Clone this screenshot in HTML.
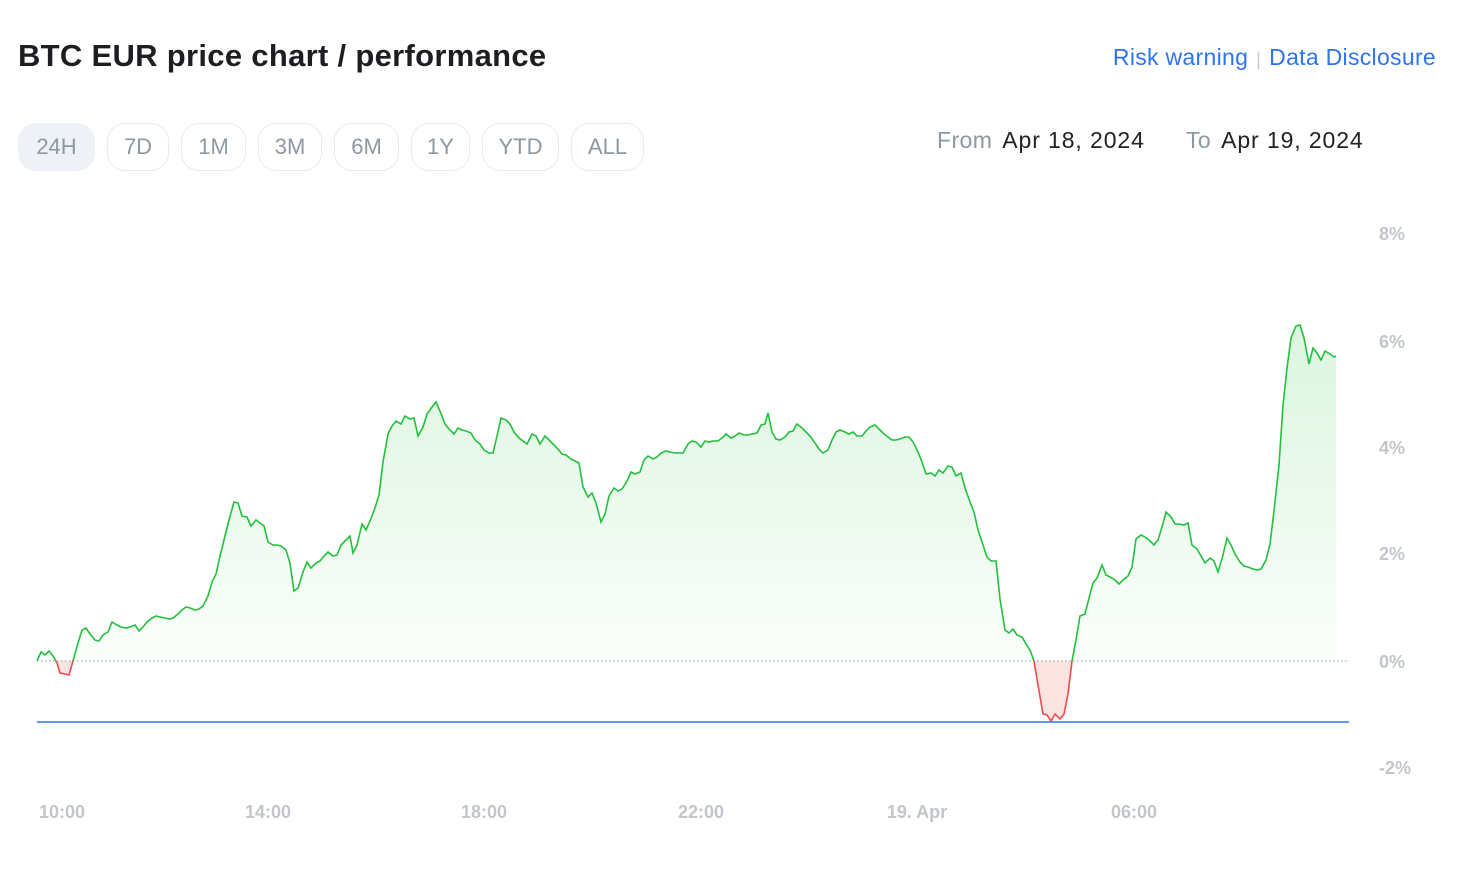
<!DOCTYPE html>
<html><head><meta charset="utf-8"><style>
body{margin:0;width:1468px;height:888px;background:#fff;font-family:"Liberation Sans",sans-serif;position:relative;overflow:hidden}
.t{position:absolute;left:18px;top:38px;font-size:31px;font-weight:bold;color:#1c1e21;letter-spacing:0.3px}
.links{position:absolute;right:32px;top:44px;font-size:23px;color:#2f73f0;letter-spacing:0.3px}
.links span{color:#c8ccd2;margin:0 8px;font-size:18px}
.b{position:absolute;top:123px;height:48px;border:1px solid #e9ebee;border-radius:18px;box-sizing:border-box;color:#8e98a3;font-size:22px;line-height:46px;text-align:center}
.range{position:absolute;top:127px;font-size:23px;color:#222;letter-spacing:0.9px}
.range i{font-style:normal;color:#8e98a3;margin-right:10px;letter-spacing:0.4px}
</style></head><body>
<div class="t">BTC EUR price chart / performance</div>
<div class="links">Risk warning<span>|</span>Data Disclosure</div>
<div class="b" style="left:18px;width:77px;background:#eef1f5;border-color:#eef1f5">24H</div>
<div class="b" style="left:107px;width:62px">7D</div>
<div class="b" style="left:181px;width:65px">1M</div>
<div class="b" style="left:258px;width:64px">3M</div>
<div class="b" style="left:334px;width:65px">6M</div>
<div class="b" style="left:411px;width:59px">1Y</div>
<div class="b" style="left:482px;width:77px">YTD</div>
<div class="b" style="left:571px;width:73px">ALL</div>
<div class="range" style="left:937px"><i>From</i>Apr 18, 2024</div>
<div class="range" style="left:1186px"><i>To</i>Apr 19, 2024</div>
<svg width="1468" height="888" style="position:absolute;left:0;top:0">
<defs>
<linearGradient id="g" x1="0" y1="325" x2="0" y2="661" gradientUnits="userSpaceOnUse"><stop offset="0" stop-color="#22c03c" stop-opacity="0.16"/><stop offset="1" stop-color="#22c03c" stop-opacity="0.02"/></linearGradient>
<clipPath id="up"><rect x="0" y="0" width="1468" height="661"/></clipPath>
<clipPath id="dn"><rect x="0" y="661" width="1468" height="200"/></clipPath>
<polygon id="f" points="37,661 41,652 45,655 49,651 53,656 57,663 60,673 65,674 69,675 73,661 78,643 82,630 86,628 90,634 95,640 99,641 103,635 108,632 112,622 117,625 121,627 126,628 130,627 135,625 139,631 143,627 147,622 152,618 156,616 160,617 165,618 169,619 173,618 178,614 182,610 186,607 190,608 195,610 199,609 203,606 208,596 212,582 216,574 220,556 225,536 229,520 234,502 238,503 242,516 247,517 251,526 256,520 260,523 264,526 268,542 273,545 277,545 281,546 286,550 290,563 294,591 298,588 303,572 307,562 311,568 316,563 320,561 324,556 328,552 333,556 337,555 341,545 346,540 350,536 353,553 357,545 362,524 366,530 370,521 375,508 379,495 383,462 388,434 392,426 396,421 401,424 405,416 410,419 414,418 418,436 423,427 427,414 432,407 436,402 440,411 445,424 449,429 454,434 458,428 462,430 466,431 471,433 475,440 480,444 484,450 489,453 493,453 497,436 501,418 506,420 510,424 514,432 519,438 523,441 527,444 532,434 536,436 540,444 545,436 549,440 553,444 558,449 562,454 566,455 571,459 575,461 579,463 583,487 588,497 592,493 596,503 601,522 605,514 609,496 614,488 618,491 622,489 627,481 631,472 635,474 640,472 644,460 648,456 653,459 657,457 661,453 666,451 670,452 675,453 679,453 683,453 688,444 692,441 696,442 701,447 705,441 709,442 713,441 718,441 722,438 726,434 731,438 735,436 739,433 744,435 748,435 752,434 757,433 761,425 765,424 768,413 772,432 776,439 780,440 785,437 789,432 793,431 797,424 802,428 806,432 810,436 815,443 819,449 823,453 828,450 832,440 836,432 840,430 845,432 849,434 853,432 857,436 862,436 866,431 870,427 875,425 879,429 883,433 888,437 892,440 896,440 900,439 905,437 909,437 913,442 918,452 922,462 926,474 931,473 935,476 939,470 943,473 948,466 952,467 956,476 961,473 965,488 970,502 974,512 978,530 983,545 987,557 991,561 996,561 1000,599 1005,630 1009,633 1013,629 1017,635 1022,637 1026,644 1030,650 1034,661 1038,685 1043,714 1047,715 1051,721 1055,714 1060,719 1064,714 1068,694 1072,661 1076,640 1080,616 1085,614 1089,598 1093,583 1097,578 1102,565 1106,575 1110,577 1115,580 1119,584 1123,580 1128,576 1132,567 1136,539 1141,535 1145,537 1149,540 1154,545 1158,540 1162,527 1166,512 1171,517 1175,524 1179,524 1184,525 1188,523 1192,545 1197,549 1201,556 1205,563 1210,558 1214,561 1218,572 1223,555 1227,538 1231,545 1235,554 1240,562 1244,566 1248,567 1253,569 1257,570 1261,569 1266,560 1270,544 1274,511 1279,465 1283,405 1287,368 1291,338 1296,326 1300,325 1304,338 1309,364 1313,348 1317,353 1321,360 1325,351 1330,354 1334,357 1336,356 1336,661"/>
<polyline id="p" points="37,661 41,652 45,655 49,651 53,656 57,663 60,673 65,674 69,675 73,661 78,643 82,630 86,628 90,634 95,640 99,641 103,635 108,632 112,622 117,625 121,627 126,628 130,627 135,625 139,631 143,627 147,622 152,618 156,616 160,617 165,618 169,619 173,618 178,614 182,610 186,607 190,608 195,610 199,609 203,606 208,596 212,582 216,574 220,556 225,536 229,520 234,502 238,503 242,516 247,517 251,526 256,520 260,523 264,526 268,542 273,545 277,545 281,546 286,550 290,563 294,591 298,588 303,572 307,562 311,568 316,563 320,561 324,556 328,552 333,556 337,555 341,545 346,540 350,536 353,553 357,545 362,524 366,530 370,521 375,508 379,495 383,462 388,434 392,426 396,421 401,424 405,416 410,419 414,418 418,436 423,427 427,414 432,407 436,402 440,411 445,424 449,429 454,434 458,428 462,430 466,431 471,433 475,440 480,444 484,450 489,453 493,453 497,436 501,418 506,420 510,424 514,432 519,438 523,441 527,444 532,434 536,436 540,444 545,436 549,440 553,444 558,449 562,454 566,455 571,459 575,461 579,463 583,487 588,497 592,493 596,503 601,522 605,514 609,496 614,488 618,491 622,489 627,481 631,472 635,474 640,472 644,460 648,456 653,459 657,457 661,453 666,451 670,452 675,453 679,453 683,453 688,444 692,441 696,442 701,447 705,441 709,442 713,441 718,441 722,438 726,434 731,438 735,436 739,433 744,435 748,435 752,434 757,433 761,425 765,424 768,413 772,432 776,439 780,440 785,437 789,432 793,431 797,424 802,428 806,432 810,436 815,443 819,449 823,453 828,450 832,440 836,432 840,430 845,432 849,434 853,432 857,436 862,436 866,431 870,427 875,425 879,429 883,433 888,437 892,440 896,440 900,439 905,437 909,437 913,442 918,452 922,462 926,474 931,473 935,476 939,470 943,473 948,466 952,467 956,476 961,473 965,488 970,502 974,512 978,530 983,545 987,557 991,561 996,561 1000,599 1005,630 1009,633 1013,629 1017,635 1022,637 1026,644 1030,650 1034,661 1038,685 1043,714 1047,715 1051,721 1055,714 1060,719 1064,714 1068,694 1072,661 1076,640 1080,616 1085,614 1089,598 1093,583 1097,578 1102,565 1106,575 1110,577 1115,580 1119,584 1123,580 1128,576 1132,567 1136,539 1141,535 1145,537 1149,540 1154,545 1158,540 1162,527 1166,512 1171,517 1175,524 1179,524 1184,525 1188,523 1192,545 1197,549 1201,556 1205,563 1210,558 1214,561 1218,572 1223,555 1227,538 1231,545 1235,554 1240,562 1244,566 1248,567 1253,569 1257,570 1261,569 1266,560 1270,544 1274,511 1279,465 1283,405 1287,368 1291,338 1296,326 1300,325 1304,338 1309,364 1313,348 1317,353 1321,360 1325,351 1330,354 1334,357 1336,356"/>
</defs>
<use href="#f" clip-path="url(#up)" style="fill:url(#g);stroke:none"/>
<use href="#f" clip-path="url(#dn)" style="fill:#fbe3e1;stroke:none"/>
<line x1="37" y1="661" x2="1348" y2="661" stroke="#999" stroke-width="1" stroke-dasharray="1.5,2.5"/>
<use href="#p" clip-path="url(#up)" style="fill:none;stroke:#22c03c;stroke-width:1.6"/>
<use href="#p" clip-path="url(#dn)" style="fill:none;stroke:#ee4b4b;stroke-width:1.6"/>
<line x1="37" y1="722" x2="1349" y2="722" stroke="#2f73f0" stroke-width="1.5"/>
<g font-family="Liberation Sans" font-size="18" font-weight="bold" fill="#c2c6cc">
<text x="1379" y="240">8%</text><text x="1379" y="348">6%</text><text x="1379" y="454">4%</text><text x="1379" y="560">2%</text><text x="1379" y="668">0%</text><text x="1379" y="774">-2%</text>
<g text-anchor="middle"><text x="62" y="818">10:00</text><text x="268" y="818">14:00</text><text x="484" y="818">18:00</text><text x="701" y="818">22:00</text><text x="917" y="818">19. Apr</text><text x="1134" y="818">06:00</text></g>
</g>
</svg>
</body></html>
